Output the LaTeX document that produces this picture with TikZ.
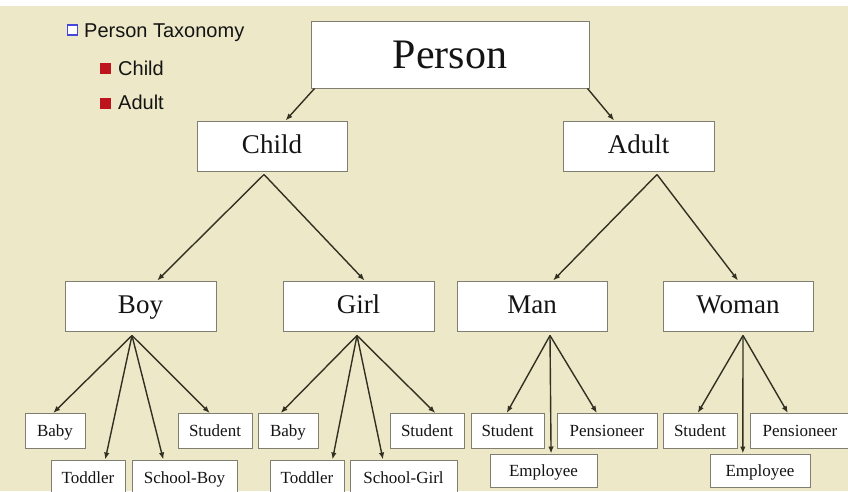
\documentclass[tikz,border=0pt]{standalone}
\usepackage{fontspec}
\setmainfont{Liberation Serif}
\newfontfamily\legendfont{Liberation Sans}
\usetikzlibrary{arrows.meta,calc}
\definecolor{paper}{RGB}{237,233,200}
\definecolor{boxline}{RGB}{128,126,112}
\definecolor{arrowcol}{RGB}{50,48,34}
\definecolor{inkcol}{RGB}{20,20,20}
\definecolor{bulletblue}{RGB}{70,70,220}
\definecolor{bulletred}{RGB}{190,20,30}

\begin{document}
\begin{tikzpicture}[x=1pt,y=-1pt,
  box/.style={draw=boxline,line width=1pt,fill=white,inner sep=0pt,text=inkcol},
  topbox/.style={box,minimum width=278pt,minimum height=67pt,font=\fontsize{42}{48}\selectfont,
                 text height=28pt,text depth=0pt},
  midbox/.style={box,minimum height=50pt,font=\fontsize{27}{32}\selectfont,
                 text height=18pt,text depth=3pt},
  leafbox/.style={box,minimum height=35pt,font=\fontsize{17}{20}\selectfont,
                  text height=11.3pt,text depth=0pt},
  link/.style={draw=arrowcol,line width=1.4pt,-{Latex[length=7pt,width=5.5pt]}},
  legendtext/.style={anchor=base west,inner sep=0pt,text=inkcol,font=\legendfont\fontsize{20}{24}\selectfont},
  bullet/.style={minimum size=11pt,inner sep=0pt}
]
% canvas
\useasboundingbox (0,0) rectangle (848,491);
\clip (0,0) rectangle (848,491);
\fill[paper] (0,0) rectangle (848,491);
\fill[white] (0,0) rectangle (848,6);

% outline in the corner
\node[bullet,draw=bulletblue,line width=1.6pt,fill=white,minimum size=10pt] (b0) at (72.5,30) {};
\node[legendtext] (t0) at (84,37) {Person Taxonomy};
\node[bullet,fill=bulletred] (b1) at (105.5,68.5) {};
\node[legendtext] (t1) at (118,75) {Child};
\node[bullet,fill=bulletred] (b2) at (105.5,103) {};
\node[legendtext] (t2) at (118,109) {Adult};

% tree boxes
\node[topbox] (person) at (450,54.5) {Person};

\node[midbox,minimum width=150pt] (child) at (272,146) {Child};
\node[midbox,minimum width=151pt] (adult) at (638.5,146) {Adult};

\node[midbox,minimum width=151pt] (boy)   at (140.5,306) {Boy};
\node[midbox,minimum width=151pt] (girl)  at (358.5,306) {Girl};
\node[midbox,minimum width=150pt] (man)   at (532,306) {Man};
\node[midbox,minimum width=150pt] (woman) at (738,306) {Woman};

\node[leafbox,minimum width=60pt]  (baby1)  at (55,431)    {Baby};
\node[leafbox,minimum width=74pt]  (stud1)  at (215,431)   {Student};
\node[leafbox,minimum width=74pt]  (tod1)   at (88,477.5)  {Toddler};
\node[leafbox,minimum width=105pt] (schb)   at (184.5,477.5) {School-Boy};

\node[leafbox,minimum width=60pt]  (baby2)  at (288,431)   {Baby};
\node[leafbox,minimum width=74pt]  (stud2)  at (427,431)   {Student};
\node[leafbox,minimum width=74pt]  (tod2)   at (307,477.5) {Toddler};
\node[leafbox,minimum width=107pt] (schg)   at (403.5,477.5) {School-Girl};

\node[leafbox,minimum width=73pt]  (stud3)  at (507.5,431) {Student};
\node[leafbox,minimum width=100pt] (pens1)  at (607,431)   {Pensioneer};
\node[leafbox,minimum width=107pt,minimum height=33pt] (emp1) at (543.5,470.5) {Employee};

\node[leafbox,minimum width=74pt]  (stud4)  at (700,431)   {Student};
\node[leafbox,minimum width=100pt] (pens2)  at (800,431)   {Pensioneer};
\node[leafbox,minimum width=100pt,minimum height=33pt] (emp2) at (760,470.5) {Employee};

% points the arrows leave from
\coordinate (personL) at ([xshift=4pt]person.south west);
\coordinate (personR) at ([xshift=-2pt]person.south east);
\coordinate (childS)  at ([xshift=-8pt,yshift=-3pt]child.south);
\coordinate (adultS)  at ([xshift=18.5pt,yshift=-3pt]adult.south);
\coordinate (boyS)    at ([xshift=-8.5pt,yshift=-4pt]boy.south);
\coordinate (girlS)   at ([xshift=-1.5pt,yshift=-4pt]girl.south);
\coordinate (manS)    at ([xshift=18pt,yshift=-4pt]man.south);
\coordinate (womanS)  at ([xshift=5pt,yshift=-4pt]woman.south);

% arrows, each ending on the upper edge of its box
\foreach \src/\dst/\f in {
    personL/child/0.59, personR/adult/0.34,
    childS/boy/0.61, childS/girl/0.54,
    adultS/man/0.64, adultS/woman/0.5,
    boyS/baby1/0.47, boyS/tod1/0.73, boyS/schb/0.30, boyS/stud1/0.43,
    girlS/baby2/0.38, girlS/tod2/0.84, girlS/schg/0.31, girlS/stud2/0.61,
    manS/stud3/0.49, manS/emp1/0.57, manS/pens1/0.40,
    womanS/stud4/0.47, womanS/emp2/0.33, womanS/pens2/0.38}
  \draw[link] (\src) -- ($(\dst.north west)!\f!(\dst.north east)$);
\end{tikzpicture}
\end{document}
